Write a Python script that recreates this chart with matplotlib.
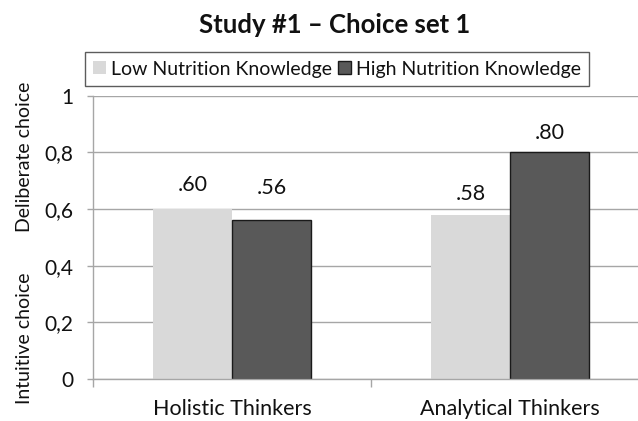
import matplotlib
matplotlib.use("Agg")

import numpy as np
import matplotlib.pyplot as plt

# Dados
categorias = ["Holistic Thinkers", "Analytical Thinkers"]
series = ["Low Nutrition Knowledge", "High Nutrition Knowledge"]
low_knowledge = [0.60, 0.58]
high_knowledge = [0.56, 0.80]
rotulos_low = [".60", ".58"]
rotulos_high = [".56", ".80"]
yticks = [0, 0.2, 0.4, 0.6, 0.8, 1]
ytick_labels = ["0", "0,2", "0,4", "0,6", "0,8", "1"]

plt.rcParams['font.family'] = ['Lato', 'DejaVu Sans']

fig = plt.figure(figsize=(6.38, 4.21), dpi=100)
ax = fig.add_axes([93 / 638, 42 / 421, 556 / 638, 283.5 / 421])

cinza = "#a6a6a6"
largura = 0.285
x = np.arange(len(categorias))

b1 = ax.bar(x - largura / 2, low_knowledge, largura, color="#d9d9d9",
            label=series[0], zorder=2)
b2 = ax.bar(x + largura / 2, high_knowledge, largura, color="#595959",
            edgecolor="#1a1a1a", linewidth=1, label=series[1], zorder=2)

# rótulos dos valores (deslocamento em pontos acima da barra)
pad_low = [17, 14.5]
pad_high = [23, 13.7]
for rect, txt, p in zip(b1, rotulos_low, pad_low):
    ax.annotate(txt, (rect.get_x() + rect.get_width() / 2, rect.get_height()),
                xytext=(0, p), textcoords="offset points",
                ha="center", va="center", fontsize=15.5, color="#111111")
for rect, txt, p in zip(b2, rotulos_high, pad_high):
    ax.annotate(txt, (rect.get_x() + rect.get_width() / 2, rect.get_height()),
                xytext=(0, p), textcoords="offset points",
                ha="center", va="center", fontsize=15.5, color="#111111")

ax.set_xlim(-0.5, len(categorias) - 0.5)
ax.set_ylim(0, 1)
ax.set_yticks(yticks)
ax.set_yticklabels(ytick_labels, fontsize=15, color="#111111")
ax.tick_params(axis="y", length=4, width=1, color=cinza, pad=10)

ax.set_xticks(x)
ax.set_xticklabels(categorias, fontsize=15.5, color="#111111")
ax.tick_params(axis="x", which="major", length=0, pad=14.5)
ax.set_xticks(np.arange(-0.5, len(categorias), 1), minor=True)
ax.tick_params(axis="x", which="minor", length=5.5, width=1, color=cinza)

ax.grid(axis="y", color=cinza, linewidth=1, zorder=0)
ax.set_axisbelow(True)
for s in ["top", "right"]:
    ax.spines[s].set_visible(False)
for s in ["left", "bottom"]:
    ax.spines[s].set_color(cinza)
    ax.spines[s].set_linewidth(1)

# títulos
fig.text(335 / 638, 1 - 25 / 421, "Study #1 \u2013 Choice set 1", ha="center",
         va="center", fontsize=18.5, fontweight="bold", color="#111111")
fig.text(25 / 638, 1 - 157 / 421, "Deliberate choice", rotation=90,
         ha="center", va="center", fontsize=14, color="#111111")
fig.text(25 / 638, 1 - 338 / 421, "Intuitive choice", rotation=90,
         ha="center", va="center", fontsize=14, color="#111111")

leg = fig.legend(loc="center", bbox_to_anchor=(337 / 638, 1 - 69 / 421),
                 ncol=2, fontsize=14, frameon=True, fancybox=False,
                 handlelength=0.65, handleheight=0.65, handletextpad=0.25,
                 columnspacing=0.35, borderpad=0.42, borderaxespad=0)
leg.get_frame().set_edgecolor("#333333")
leg.get_frame().set_linewidth(1)
for t in leg.get_texts():
    t.set_color("#111111")

fig.savefig("out.png", dpi=100)
